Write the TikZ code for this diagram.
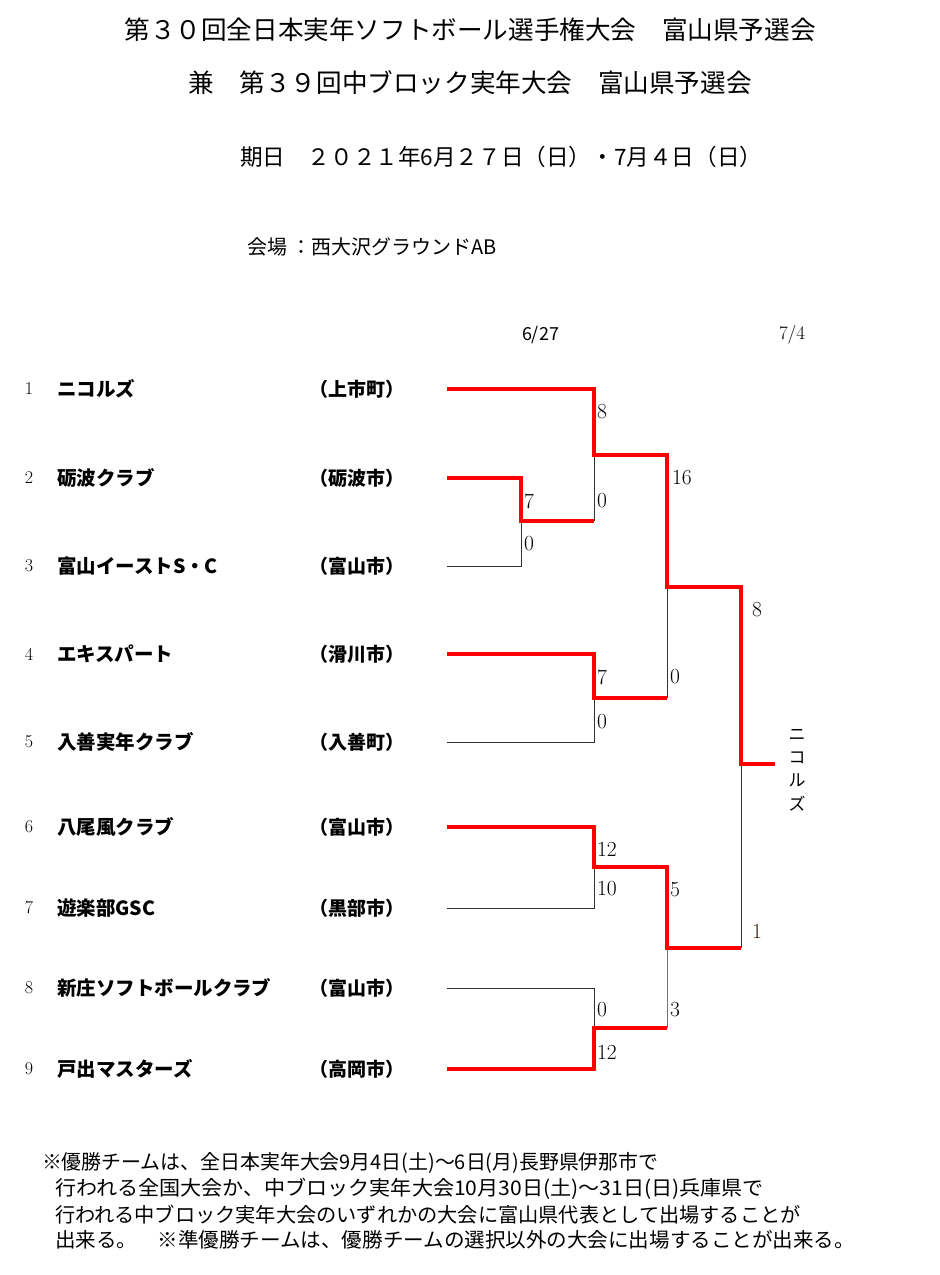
\documentclass[tikz,border=0pt]{standalone}
\usepackage{fontspec}
\usepackage{graphicx}
\newfontfamily\jp{Noto Sans CJK JP}
\begin{document}
\begin{tikzpicture}[x=1pt,y=-1pt,
  txt/.style={inner sep=0pt, outer sep=0pt},
  titletxt/.style={txt, font=\jp\fontsize{25.6}{30}\selectfont},
  infotxt/.style={txt, anchor=west},
  team/.style={txt, anchor=west, font=\jp\bfseries\fontsize{19.5}{22}\selectfont},
  city/.style={txt, anchor=west, font=\jp\bfseries\fontsize{19}{22}\selectfont},
  seed/.style={txt, font=\fontsize{18}{20}\selectfont},
  score/.style={txt, anchor=west, font=\fontsize{21.5}{24}\selectfont},
  foot/.style={txt, anchor=west, font=\jp\fontsize{20.2}{26}\selectfont},
  loser/.style={draw=black!80, line width=0.9pt},
  winner/.style={draw=red, line width=3.2pt, line join=miter}
]
\useasboundingbox (0,0) rectangle (940,1275);
\fill[white] (0,0) rectangle (940,1275);

% titles
\node[titletxt] (title1) at (470,30) {第３０回全日本実年ソフトボール選手権大会　富山県予選会};
\node[titletxt] (title2) at (470,83) {兼　第３９回中ブロック実年大会　富山県予選会};
\node[infotxt, font=\jp\fontsize{22.6}{26}\selectfont] (date) at (240,157) {期日　２０２１年6月２７日（日）・7月４日（日）};
\node[infotxt, font=\jp\fontsize{20}{24}\selectfont] (venue) at (247,247) {会場 ：西大沢グラウンドAB};

% round dates
\node[infotxt, font=\jp\fontsize{18}{20}\selectfont] (d1) at (522,335) {6/27};
\node[infotxt, font=\fontsize{19}{20}\selectfont] (d2) at (779,335) {7/4};

% teams
\foreach \i/\nm/\ct/\y in {
  1/ニコルズ/上市町/389,
  2/砺波クラブ/砺波市/478,
  3/富山イーストS・C/富山市/566,
  4/エキスパート/滑川市/654,
  5/入善実年クラブ/入善町/742,
  6/八尾風クラブ/富山市/827,
  7/遊楽部GSC/黒部市/908,
  8/新庄ソフトボールクラブ/富山市/988,
  9/戸出マスターズ/高岡市/1069} {
  \node[seed] (n\i) at (29,\y) {\i};
  \node[team] (t\i) at (57,\y) {\nm};
  \node[city] (c\i) at (309,\y) {（\ct）};
  \coordinate (s\i) at (447,\y);
}

% junctions
\coordinate (j23) at (521,521);
\coordinate (j1) at (594,455);
\coordinate (j45) at (594,698);
\coordinate (jt) at (667,587);
\coordinate (j67) at (594,867);
\coordinate (j89) at (594,1028);
\coordinate (jb) at (667,948);
\coordinate (jf) at (741,764);
\coordinate (champ) at (775,764);

% losing lines
\draw[loser] (s3) -| (j23);
\draw[loser] (j1) -- (j1 |- j23);
\draw[loser] (s5) -| (j45);
\draw[loser] (jt) -- (jt |- j45);
\draw[loser] (s7) -| (j67);
\draw[loser] (s8) -| (j89);
\draw[loser, draw=black!55] (jb) -- (jb |- j89);
\draw[loser] (jf) -- (jf |- jb);

% winning lines
\draw[winner] (s1) -| (j1) -| (jt) -| (jf) -- (champ);
\draw[winner] (s2) -| (j23) -- (j1 |- j23);
\draw[winner] (s4) -| (j45) -- (jt |- j45);
\draw[winner] (s6) -| (j67) -| (jb) -- (jf |- jb);
\draw[winner] (s9) -| (j89) -- (jb |- j89);

% scores
\node[score] (a1) at (597,412) {8};
\node[score] (a2) at (597,501) {0};
\node[score] (a3) at (524,501) {7};
\node[score] (a4) at (524,544) {0};
\node[score] (a5) at (672,478) {16};
\node[score] (a6) at (752,610) {8};
\node[score] (a7) at (597,677) {7};
\node[score] (a8) at (670,677) {0};
\node[score] (a9) at (597,722) {0};
\node[score] (a10) at (597,849) {12};
\node[score] (a11) at (597,889) {10};
\node[score] (a12) at (670,890) {5};
\node[score, text=black!75!brown] (a13) at (752,931) {1};
\node[score] (a14) at (597,1010) {0};
\node[score] (a15) at (670,1010) {3};
\node[score] (a16) at (597,1052) {12};

% champion
\node[txt, font=\jp\fontsize{17}{23.3}\selectfont, align=center] (champname) at (797,770) {ニ\\コ\\ル\\ズ};

% footnote
\node[foot] (f1) at (42,1163) {\scalebox{0.985}[1]{※優勝チームは、全日本実年大会9月4日(土)～6日(月)長野県伊那市で}};
\node[foot] (f2) at (55,1189) {\scalebox{1.044}[1]{行われる全国大会か、中ブロック実年大会10月30日(土)～31日(日)兵庫県で}};
\node[foot] (f3) at (55,1215) {行われる中ブロック実年大会のいずれかの大会に富山県代表として出場することが};
\node[foot] (f4) at (55,1240) {\scalebox{1.017}[1]{出来る。　※準優勝チームは、優勝チームの選択以外の大会に出場することが出来る。}};
\end{tikzpicture}
\end{document}
